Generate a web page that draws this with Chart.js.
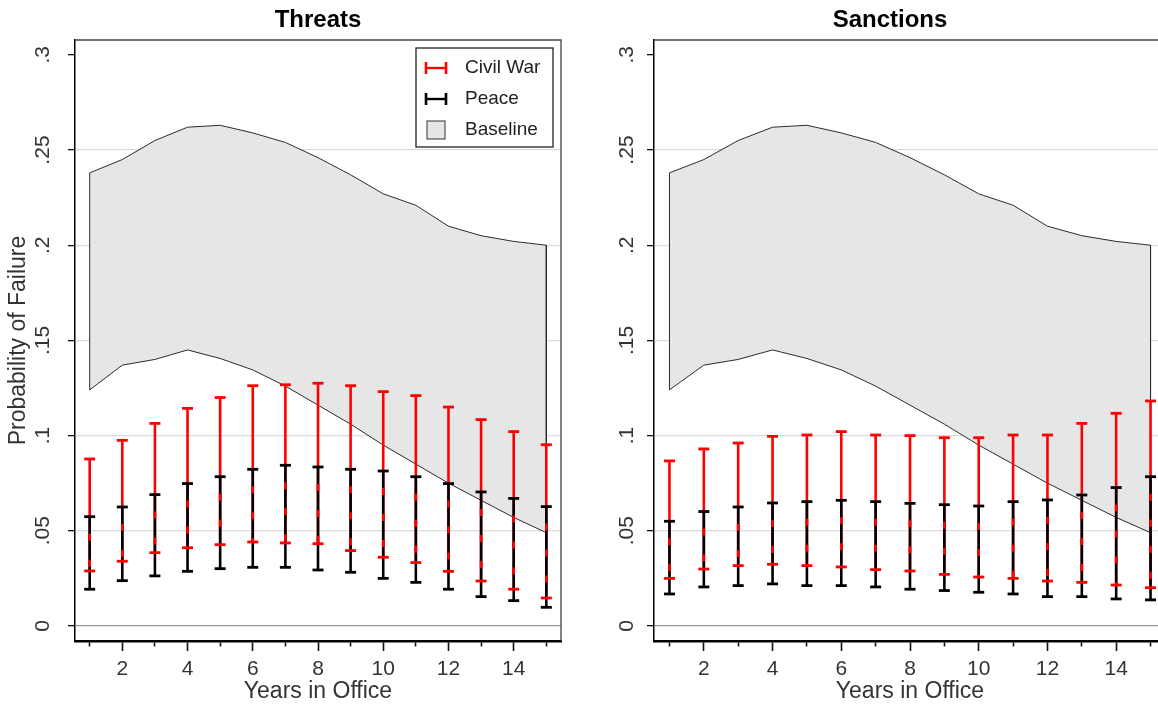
<!DOCTYPE html>
<html>
<head>
<meta charset="utf-8">
<script src="https://cdn.jsdelivr.net/npm/chart.js@4.4.1/dist/chart.umd.min.js"></script>
<style>
  html, body { margin: 0; padding: 0; background: #fff; overflow: hidden; width: 1158px; height: 708px; }
  .panel { position: absolute; top: 0; height: 708px; width: 600px; }
  #left { left: 0; }
  #right { left: 600px; }
</style>
</head>
<body>
<div class="panel" id="left"><canvas id="threats"></canvas></div>
<div class="panel" id="right"><canvas id="sanctions"></canvas></div>
<script>
const years = [1, 2, 3, 4, 5, 6, 7, 8, 9, 10, 11, 12, 13, 14, 15];

// baseline band (same in both panels)
const baselineUpper = [0.238, 0.245, 0.255, 0.262, 0.263, 0.259, 0.254, 0.246, 0.237, 0.227, 0.221, 0.210, 0.205, 0.202, 0.200];
const baselineLower = [0.124, 0.137, 0.140, 0.145, 0.1405, 0.1345, 0.126, 0.116, 0.106, 0.095, 0.085, 0.075, 0.066, 0.057, 0.049];

// Threats panel
const threatsCivilHigh = [0.0877, 0.0975, 0.1064, 0.1143, 0.1200, 0.1262, 0.1267, 0.1275, 0.1262, 0.1231, 0.1210, 0.1150, 0.1084, 0.1021, 0.0952];
const threatsCivilLow  = [0.0289, 0.0340, 0.0385, 0.0411, 0.0427, 0.0441, 0.0436, 0.0432, 0.0396, 0.0361, 0.0333, 0.0287, 0.0236, 0.0193, 0.0147];
const threatsPeaceHigh = [0.0574, 0.0625, 0.0690, 0.0748, 0.0784, 0.0823, 0.0844, 0.0835, 0.0823, 0.0814, 0.0784, 0.0748, 0.0704, 0.0670, 0.0627];
const threatsPeaceLow  = [0.0193, 0.0238, 0.0263, 0.0287, 0.0301, 0.0308, 0.0308, 0.0294, 0.0282, 0.0250, 0.0229, 0.0193, 0.0154, 0.0133, 0.0098];

// Sanctions panel
const sanctionsCivilHigh = [0.0867, 0.0930, 0.0961, 0.0996, 0.1003, 0.1021, 0.1003, 0.1000, 0.0989, 0.0989, 0.1003, 0.1003, 0.1064, 0.1117, 0.1182];
const sanctionsCivilLow  = [0.0250, 0.0299, 0.0317, 0.0324, 0.0317, 0.0310, 0.0296, 0.0289, 0.0271, 0.0257, 0.0250, 0.0236, 0.0229, 0.0215, 0.0201];
const sanctionsPeaceHigh = [0.0550, 0.0601, 0.0625, 0.0646, 0.0653, 0.0660, 0.0653, 0.0644, 0.0637, 0.0630, 0.0653, 0.0662, 0.0688, 0.0727, 0.0784];
const sanctionsPeaceLow  = [0.0168, 0.0205, 0.0212, 0.0221, 0.0212, 0.0212, 0.0205, 0.0193, 0.0186, 0.0177, 0.0168, 0.0154, 0.0154, 0.0142, 0.0137];

// axes
const yTickValues = [0, 0.05, 0.1, 0.15, 0.2, 0.25, 0.3];
const yTickLabels = ['0', '.05', '.1', '.15', '.2', '.25', '.3'];
const xTickValues = years;
const xTickLabels = ['', '2', '', '4', '', '6', '', '8', '', '10', '', '12', '', '14', ''];

const legendLabels = ['Civil War', 'Peace', 'Baseline'];

const RED = '#ff0000';
const BLACK = '#000000';
const BAND_FILL = '#e6e6e6';
const FONT = '"Liberation Sans", Arial, sans-serif';

Chart.defaults.font.family = FONT;

// closed outline of the band: upper edge left->right, lower edge right->left
const bandPoints = years.map((yr, i) => ({ x: yr, y: baselineUpper[i] }))
  .concat(years.slice().reverse().map((yr, j) => ({ x: yr, y: baselineLower[years.length - 1 - j] })))
  .concat([{ x: years[0], y: baselineUpper[0] }]);

function vline(ctx, x, y1, y2, color, w) {
  ctx.strokeStyle = color;
  ctx.lineWidth = w;
  ctx.beginPath();
  ctx.moveTo(x, y1);
  ctx.lineTo(x, y2);
  ctx.stroke();
}

function hline(ctx, x1, x2, y, color, w) {
  ctx.strokeStyle = color;
  ctx.lineWidth = w;
  ctx.beginPath();
  ctx.moveTo(x1, y);
  ctx.lineTo(x2, y);
  ctx.stroke();
}

function errorBars(civilLow, civilHigh, peaceLow, peaceHigh) {
  return {
    id: 'errorBars',
    afterDatasetsDraw(chart) {
      const { ctx, scales: { x, y } } = chart;
      const cap = 5.5;
      ctx.save();
      ctx.lineCap = 'butt';
      years.forEach((yr, i) => {
        const px = x.getPixelForValue(yr);
        const cHi = y.getPixelForValue(civilHigh[i]);
        const cLo = y.getPixelForValue(civilLow[i]);
        const pHi = y.getPixelForValue(peaceHigh[i]);
        const pLo = y.getPixelForValue(peaceLow[i]);
        vline(ctx, px, cHi, cLo, RED, 2.6);
        vline(ctx, px, pHi, pLo, BLACK, 2.6);
        // red bleeds through the black bar where both overlap
        const top = Math.max(cHi, pHi), bot = Math.min(cLo, pLo);
        if (bot > top) {
          ctx.setLineDash([7, 19]);
          ctx.lineDashOffset = 9;
          vline(ctx, px, top, bot, RED, 2.6);
          ctx.setLineDash([]);
        }
        hline(ctx, px - cap, px + cap, cHi, RED, 2.8);
        hline(ctx, px - cap, px + cap, cLo, RED, 2.8);
        hline(ctx, px - cap, px + cap, pHi, BLACK, 2.8);
        hline(ctx, px - cap, px + cap, pLo, BLACK, 2.8);
      });
      ctx.restore();
    }
  };
}

function frameAndTitle(title, shift) {
  return {
    id: 'frameAndTitle',
    afterDraw(chart) {
      const { ctx, chartArea: a } = chart;
      ctx.save();
      ctx.strokeStyle = '#444';
      ctx.lineWidth = 1.3;
      ctx.beginPath();
      ctx.moveTo(a.left, a.top);
      ctx.lineTo(a.right, a.top);
      ctx.lineTo(a.right, a.bottom);
      ctx.stroke();
      ctx.fillStyle = '#000';
      ctx.font = 'bold 24px ' + FONT;
      ctx.textAlign = 'center';
      ctx.textBaseline = 'middle';
      ctx.fillText(title, (a.left + a.right) / 2 + shift, 20);
      ctx.restore();
    }
  };
}

const boxLegend = {
  id: 'boxLegend',
  afterDraw(chart) {
    const { ctx, chartArea: a } = chart;
    const w = 137, h = 99;
    const left = a.right - 8 - w, top = a.top + 8;
    ctx.save();
    ctx.fillStyle = '#fff';
    ctx.fillRect(left, top, w, h);
    ctx.strokeStyle = '#222';
    ctx.lineWidth = 1.3;
    ctx.strokeRect(left, top, w, h);
    ctx.font = '19px ' + FONT;
    ctx.textBaseline = 'middle';
    ctx.textAlign = 'left';
    legendLabels.forEach((label, i) => {
      const cy = top + 20 + i * 31;
      if (i < 2) {
        const c = i === 0 ? RED : BLACK;
        hline(ctx, left + 10, left + 30, cy, c, 2.4);
        vline(ctx, left + 10, cy - 6, cy + 6, c, 2.6);
        vline(ctx, left + 30, cy - 6, cy + 6, c, 2.6);
      } else {
        ctx.fillStyle = BAND_FILL;
        ctx.fillRect(left + 11, cy - 9, 18, 18);
        ctx.strokeStyle = '#333';
        ctx.lineWidth = 1;
        ctx.strokeRect(left + 11, cy - 9, 18, 18);
      }
      ctx.fillStyle = '#222';
      ctx.fillText(label, left + 49, cy);
    });
    ctx.restore();
  }
};

function makePanel(canvasId, cfg) {
  const plugins = [errorBars(cfg.civilLow, cfg.civilHigh, cfg.peaceLow, cfg.peaceHigh), frameAndTitle(cfg.title, cfg.titleShift)];
  if (cfg.legend) plugins.push(boxLegend);
  return new Chart(document.getElementById(canvasId), {
    type: 'line',
    data: {
      datasets: [{
        label: 'Baseline',
        data: bandPoints,
        borderColor: '#2b2b2b',
        borderWidth: 1,
        backgroundColor: BAND_FILL,
        fill: 'shape',
        pointRadius: 0,
        tension: 0
      }]
    },
    options: {
      responsive: true,
      maintainAspectRatio: false,
      animation: false,
      layout: { padding: { top: 40, right: cfg.padRight, bottom: 0, left: 0 } },
      plugins: {
        legend: { display: false },
        tooltip: { enabled: false },
        title: { display: false }
      },
      scales: {
        x: {
          type: 'linear',
          min: 0.55,
          max: 15.45,
          afterBuildTicks: s => { s.ticks = xTickValues.map(v => ({ value: v })); },
          afterFit: s => { s.height = 67; },
          ticks: {
            callback: (v, i) => xTickLabels[i],
            autoSkip: false,
            maxRotation: 0,
            padding: 6,
            color: '#333',
            font: { size: 21 }
          },
          grid: {
            drawOnChartArea: false,
            tickLength: 10,
            tickWidth: 1.6,
            tickColor: '#111',
            tickBorderDash: c => (c.index % 2 === 0 ? [4, 30] : [])
          },
          border: { color: '#000', width: 2.5 },
          title: { display: true, text: 'Years in Office', color: '#333', font: { size: 23 }, padding: { top: 0, bottom: 3 } }
        },
        y: {
          min: -0.0079,
          max: 0.3078,
          afterBuildTicks: s => { s.ticks = yTickValues.map(v => ({ value: v })); },
          afterFit: s => { s.width = cfg.yWidth; },
          ticks: {
            callback: (v, i) => yTickLabels[i],
            autoSkip: false,
            minRotation: 90,
            maxRotation: 90,
            crossAlign: 'center',
            padding: cfg.yPad,
            color: '#333',
            font: { size: 21 }
          },
          grid: {
            color: c => {
              if (!c.tick) return '#dcdcdc';
              if (c.tick.value === 0) return '#9a9a9a';
              if (c.tick.value >= 0.3) return 'rgba(0,0,0,0)';
              return '#dcdcdc';
            },
            lineWidth: 1.3,
            tickLength: 7,
            tickColor: '#111',
            tickWidth: 1.3
          },
          border: { color: '#000', width: 1.5 },
          title: { display: cfg.yTitle, text: 'Probability of Failure', color: '#333', font: { size: 23 }, padding: { top: 5, bottom: 0 } }
        }
      }
    },
    plugins: plugins
  });
}

makePanel('threats', {
  title: 'Threats', titleShift: 0, legend: true, yTitle: true,
  yWidth: 75, yPad: 10, padRight: 39,
  civilLow: threatsCivilLow, civilHigh: threatsCivilHigh, peaceLow: threatsPeaceLow, peaceHigh: threatsPeaceHigh
});

makePanel('sanctions', {
  title: 'Sanctions', titleShift: -20, legend: false, yTitle: false,
  yWidth: 54, yPad: 5, padRight: 34,
  civilLow: sanctionsCivilLow, civilHigh: sanctionsCivilHigh, peaceLow: sanctionsPeaceLow, peaceHigh: sanctionsPeaceHigh
});
</script>
</body>
</html>
